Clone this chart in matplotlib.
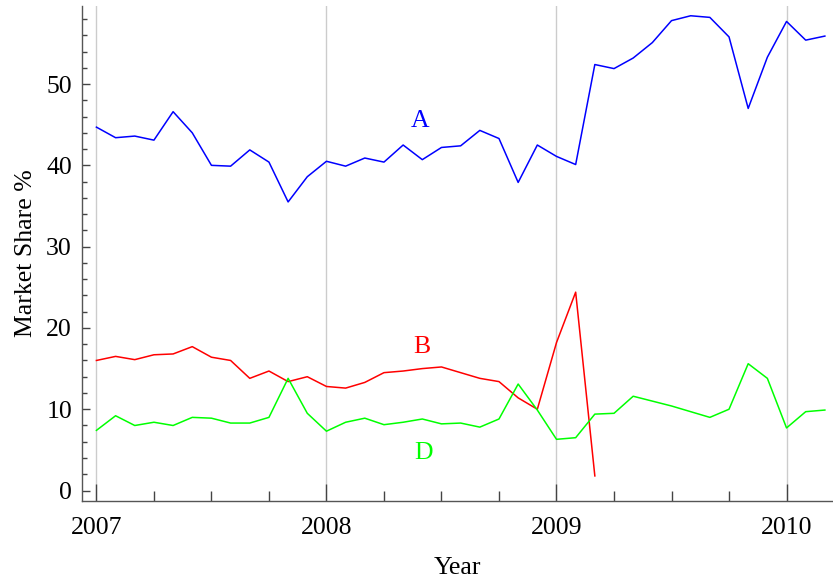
import numpy as np
import matplotlib
matplotlib.use("Agg")
import matplotlib.pyplot as plt
from matplotlib.ticker import MultipleLocator

plt.rcParams['font.family'] = ['Liberation Serif', 'DejaVu Serif']

start_year = 2007
series_A = [44.7, 43.4, 43.6, 43.1, 46.6, 44.0, 40.0, 39.9, 41.9, 40.4, 35.5, 38.6,
            40.5, 39.9, 40.9, 40.4, 42.5, 40.7, 42.2, 42.4, 44.3, 43.3, 37.9, 42.5,
            41.1, 40.1, 52.4, 51.9, 53.2, 55.1, 57.8, 58.4, 58.2, 55.8, 47.0, 53.3,
            57.7, 55.4, 55.9]
series_B = [16.0, 16.5, 16.1, 16.7, 16.8, 17.7, 16.4, 16.0, 13.8, 14.7, 13.4, 14.0,
            12.8, 12.6, 13.3, 14.5, 14.7, 15.0, 15.2, 14.5, 13.8, 13.4, 11.4, 10.0,
            18.2, 24.4, 1.8]
series_D = [7.4, 9.2, 8.0, 8.4, 8.0, 9.0, 8.9, 8.3, 8.3, 9.0, 13.8, 9.5,
            7.3, 8.4, 8.9, 8.1, 8.4, 8.8, 8.2, 8.3, 7.8, 8.8, 13.1, 9.9,
            6.3, 6.5, 9.4, 9.5, 11.6, 11.0, 10.4, 9.7, 9.0, 10.0, 15.6, 13.8,
            7.7, 9.7, 9.9]
labels = ["A", "B", "D"]
colors = ["#0000ff", "#ff0000", "#00ff00"]
label_pos = [(2008.405, 45.4), (2008.413, 17.6), (2008.42, 4.6)]
year_ticks = [2007, 2008, 2009, 2010]

def months(n):
    return start_year + np.arange(n) / 12.0

fig = plt.figure(figsize=(8.33, 5.79), dpi=100)
W, H = 833, 579
ax = fig.add_axes([81.7 / W, (H - 500.7) / H, (W - 81.7) / W, (500.7 - 6) / H])

for yr in year_ticks:
    ax.axvline(yr, color='#cccccc', lw=1.0, zorder=0)

for s, c in zip([series_A, series_B, series_D], colors):
    ax.plot(months(len(s)), s, color=c, lw=1.1, zorder=3)

for lab, (x, y), c in zip(labels, label_pos, colors):
    ax.text(x, y, lab, color=c, fontsize=18.5, ha='center', va='center')

ax.set_xlim(2006.936, 2010.202)
ax.set_ylim(-1.25, 59.6)

for side in ['top', 'right']:
    ax.spines[side].set_visible(False)
for side in ['left', 'bottom']:
    ax.spines[side].set_color('#555555')
    ax.spines[side].set_linewidth(1.0)

ax.set_xticks(year_ticks)
ax.set_xticklabels([str(y) for y in year_ticks])
ax.xaxis.set_minor_locator(MultipleLocator(0.25))
ax.set_yticks([0, 10, 20, 30, 40, 50])
ax.yaxis.set_minor_locator(MultipleLocator(2))

ax.tick_params(axis='x', which='major', direction='in', length=12, width=1.0,
               color='#444444', labelsize=18.5, pad=12)
ax.tick_params(axis='x', which='minor', direction='in', length=7, width=1.0,
               color='#444444')
ax.tick_params(axis='y', which='major', direction='in', length=5.5, width=1.0,
               color='#444444', labelsize=18.5, pad=7)
ax.tick_params(axis='y', which='minor', direction='in', length=3.5, width=1.0,
               color='#444444')

ax.set_xlabel("Year", fontsize=18.5)
ax.set_ylabel("Market Share %", fontsize=18.5)
ax.xaxis.set_label_coords(0.5, -(557 - 500.7) / 494.7)
ax.yaxis.set_label_coords(-(81.7 - 37) / 751.3, 0.5)

fig.savefig("out.png", dpi=100)
